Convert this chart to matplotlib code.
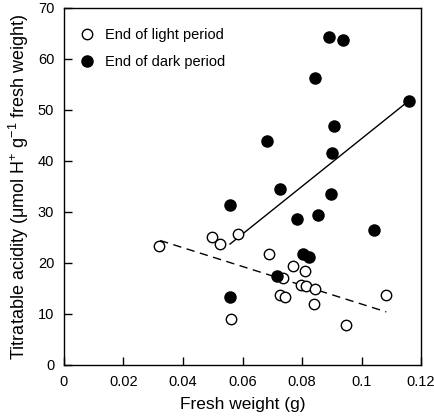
import matplotlib
matplotlib.use("Agg")
import matplotlib.pyplot as plt

plt.rcParams['font.family'] = ['Liberation Sans', 'DejaVu Sans']
plt.rcParams['mathtext.fontset'] = 'custom'
plt.rcParams['mathtext.rm'] = 'Liberation Sans'
plt.rcParams['mathtext.it'] = 'Liberation Sans'

# End of light period (open circles)
light_x = [0.0319, 0.0499, 0.0524, 0.0584, 0.0560, 0.0690, 0.0770, 0.0811, 0.0735,
           0.0798, 0.0812, 0.0845, 0.0725, 0.0743, 0.1083, 0.0839, 0.0947]
light_y = [23.4, 25.0, 23.8, 25.6, 9.0, 21.8, 19.4, 18.5, 17.0,
           15.6, 15.4, 14.8, 13.8, 13.4, 13.8, 12.0, 7.9]

# End of dark period (filled circles)
dark_x = [0.0892, 0.0939, 0.0843, 0.1159, 0.0906, 0.0681, 0.0901, 0.0726, 0.0896,
          0.0559, 0.0558, 0.0783, 0.0852, 0.1041, 0.0802, 0.0822, 0.0717]
dark_y = [64.3, 63.8, 56.3, 51.8, 46.9, 43.9, 41.5, 34.4, 33.5,
          31.3, 13.4, 28.7, 29.3, 26.4, 21.8, 21.2, 17.5]

# Fitted regression lines (endpoints)
fit_light_x = [0.0323, 0.1083]
fit_light_y = [24.4, 10.4]
fit_dark_x = [0.0558, 0.1159]
fit_dark_y = [23.7, 51.8]

xticks = [0, 0.02, 0.04, 0.06, 0.08, 0.1, 0.12]
xticklabels = ['0', '0.02', '0.04', '0.06', '0.08', '0.1', '0.12']
yticks = [0, 10, 20, 30, 40, 50, 60, 70]

fig = plt.figure(figsize=(4.35, 4.18), dpi=100)
ax = fig.add_axes([0.147, 0.127, 0.821, 0.854])

ax.plot(fit_dark_x, fit_dark_y, color='black', lw=1.0, zorder=1)
ax.plot(fit_light_x, fit_light_y, color='black', lw=1.0, ls=(0, (6, 4)), zorder=1)

ax.plot(light_x, light_y, 'o', ms=7.5, mfc='white', mec='black', mew=1.0,
        ls='none', label='End of light period', zorder=3)
ax.plot(dark_x, dark_y, 'o', ms=8, mfc='black', mec='black', mew=1.0,
        ls='none', label='End of dark period', zorder=3)

ax.set_xlim(0, 0.12)
ax.set_ylim(0, 70)
ax.set_xticks(xticks)
ax.set_xticklabels(xticklabels)
ax.set_yticks(yticks)
ax.tick_params(direction='in', length=6, width=1, labelsize=10.5, pad=7)
for s in ax.spines.values():
    s.set_linewidth(1)

ax.set_xlabel('Fresh weight (g)', fontsize=12.5, labelpad=6)
ax.set_ylabel(r'Titratable acidity ($\mathregular{\mu}$mol H$^{+}$ g$^{-1}$ fresh weight)',
              fontsize=13, labelpad=5)

leg = ax.legend(loc='upper left', frameon=False, fontsize=10.5, handletextpad=0.6,
                borderaxespad=0.6, labelspacing=0.9, handlelength=1.2,
                bbox_to_anchor=(0.0, 0.985))

fig.savefig('out.png', dpi=100)
